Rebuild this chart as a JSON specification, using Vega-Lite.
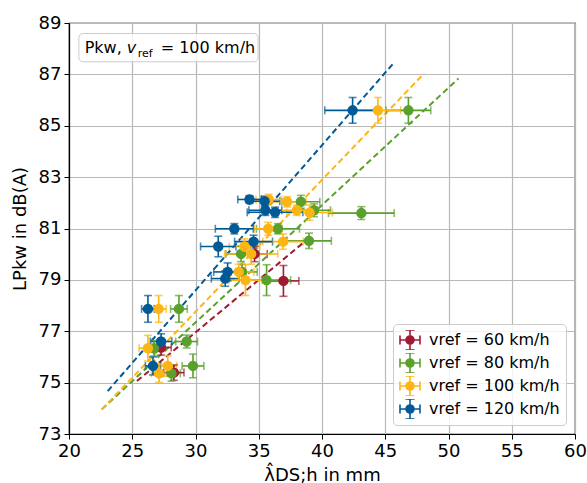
{
  "$schema": "https://vega.github.io/schema/vega-lite/v6.json",
  "width": 506,
  "height": 411,
  "autosize": {"type": "none"},
  "padding": {"left": 69, "top": 23, "right": 12, "bottom": 49},
  "background": "white",
  "datasets": {
    "pts": [
      {"v": "60", "x": 36.95, "y": 78.96, "xe": 1.22, "ye": 0.6},
      {"v": "60", "x": 34.67, "y": 80.01, "xe": 1.0, "ye": 0.3},
      {"v": "60", "x": 27.28, "y": 76.37, "xe": 0.8, "ye": 0.3},
      {"v": "60", "x": 28.29, "y": 75.39, "xe": 0.8, "ye": 0.3},
      {"v": "80", "x": 46.83, "y": 85.6, "xe": 1.77, "ye": 0.5},
      {"v": "80", "x": 38.33, "y": 82.04, "xe": 1.5, "ye": 0.25},
      {"v": "80", "x": 39.37, "y": 81.71, "xe": 1.3, "ye": 0.25},
      {"v": "80", "x": 43.11, "y": 81.6, "xe": 2.6, "ye": 0.25},
      {"v": "80", "x": 36.52, "y": 80.99, "xe": 1.7, "ye": 0.2},
      {"v": "80", "x": 38.97, "y": 80.52, "xe": 1.77, "ye": 0.3},
      {"v": "80", "x": 33.6, "y": 80.01, "xe": 1.2, "ye": 0.3},
      {"v": "80", "x": 33.68, "y": 79.31, "xe": 1.2, "ye": 0.3},
      {"v": "80", "x": 35.62, "y": 78.99, "xe": 1.9, "ye": 0.6},
      {"v": "80", "x": 28.69, "y": 77.87, "xe": 0.66, "ye": 0.52},
      {"v": "80", "x": 29.3, "y": 76.6, "xe": 0.86, "ye": 0.25},
      {"v": "80", "x": 26.72, "y": 76.34, "xe": 0.6, "ye": 0.3},
      {"v": "80", "x": 29.8, "y": 75.65, "xe": 0.86, "ye": 0.46},
      {"v": "80", "x": 28.1, "y": 75.36, "xe": 0.7, "ye": 0.3},
      {"v": "100", "x": 44.42, "y": 85.6, "xe": 1.8, "ye": 0.5},
      {"v": "100", "x": 35.78, "y": 82.13, "xe": 1.0, "ye": 0.2},
      {"v": "100", "x": 37.24, "y": 82.04, "xe": 1.5, "ye": 0.2},
      {"v": "100", "x": 38.01, "y": 81.71, "xe": 1.6, "ye": 0.2},
      {"v": "100", "x": 39.02, "y": 81.62, "xe": 1.8, "ye": 0.3},
      {"v": "100", "x": 35.75, "y": 80.99, "xe": 1.1, "ye": 0.25},
      {"v": "100", "x": 36.92, "y": 80.49, "xe": 1.6, "ye": 0.3},
      {"v": "100", "x": 33.87, "y": 80.3, "xe": 1.2, "ye": 0.3},
      {"v": "100", "x": 34.4, "y": 80.01, "xe": 2.1, "ye": 0.4},
      {"v": "100", "x": 33.42, "y": 79.31, "xe": 1.2, "ye": 0.3},
      {"v": "100", "x": 33.95, "y": 78.99, "xe": 1.3, "ye": 0.6},
      {"v": "100", "x": 27.09, "y": 77.87, "xe": 0.6, "ye": 0.52},
      {"v": "100", "x": 26.24, "y": 76.34, "xe": 0.7, "ye": 0.5},
      {"v": "100", "x": 27.81, "y": 75.65, "xe": 0.7, "ye": 0.4},
      {"v": "100", "x": 27.12, "y": 75.36, "xe": 0.6, "ye": 0.35},
      {"v": "120", "x": 42.42, "y": 85.6, "xe": 2.2, "ye": 0.5},
      {"v": "120", "x": 34.27, "y": 82.13, "xe": 0.93, "ye": 0.15},
      {"v": "120", "x": 35.46, "y": 82.06, "xe": 1.2, "ye": 0.2},
      {"v": "120", "x": 35.52, "y": 81.71, "xe": 1.3, "ye": 0.2},
      {"v": "120", "x": 36.29, "y": 81.63, "xe": 2.2, "ye": 0.2},
      {"v": "120", "x": 33.07, "y": 80.99, "xe": 1.5, "ye": 0.2},
      {"v": "120", "x": 34.59, "y": 80.49, "xe": 1.5, "ye": 0.25},
      {"v": "120", "x": 31.8, "y": 80.3, "xe": 1.4, "ye": 0.4},
      {"v": "120", "x": 32.54, "y": 79.31, "xe": 1.1, "ye": 0.35},
      {"v": "120", "x": 32.35, "y": 79.05, "xe": 1.1, "ye": 0.3},
      {"v": "120", "x": 26.24, "y": 77.87, "xe": 0.5, "ye": 0.52},
      {"v": "120", "x": 27.28, "y": 76.6, "xe": 0.85, "ye": 0.3},
      {"v": "120", "x": 26.64, "y": 75.65, "xe": 0.6, "ye": 0.35}
    ],
    "fits": [
      {"v": "60", "x": 25.37, "y": 75.06},
      {"v": "60", "x": 38.78, "y": 80.55},
      {"v": "80", "x": 22.6, "y": 73.96},
      {"v": "80", "x": 50.79, "y": 86.84},
      {"v": "100", "x": 22.58, "y": 73.95},
      {"v": "100", "x": 48.08, "y": 87.04},
      {"v": "120", "x": 23.06, "y": 74.67},
      {"v": "120", "x": 45.64, "y": 87.43}
    ],
    "note": [{"t": "Pkw,"}]
  },
  "config": {
    "font": "DejaVu Sans",
    "view": {"stroke": "black", "strokeWidth": 1.2},
    "axis": {
      "labelFont": "DejaVu Sans",
      "labelFontSize": 18,
      "labelColor": "black",
      "titleFont": "DejaVu Sans",
      "titleFontSize": 18,
      "titleFontWeight": "normal",
      "titleColor": "black",
      "domainColor": "black",
      "domainWidth": 1.2,
      "tickColor": "black",
      "tickSize": 5,
      "tickWidth": 1,
      "gridColor": "#b8b8b8",
      "gridWidth": 1.2,
      "labelPadding": 3
    }
  },
  "layer": [
    {
      "data": {"name": "fits"},
      "mark": {"type": "line", "strokeDash": [6, 3.5], "strokeWidth": 2},
      "encoding": {
        "x": {
          "field": "x",
          "type": "quantitative",
          "title": "λ̂DS;h in mm",
          "scale": {"domain": [20, 60], "nice": false, "zero": false},
          "axis": {"values": [20, 25, 30, 35, 40, 45, 50, 55, 60], "titlePadding": 6, "labelFlush": false}
        },
        "y": {
          "field": "y",
          "type": "quantitative",
          "title": "LPkw in dB(A)",
          "scale": {"domain": [73, 89], "nice": false, "zero": false},
          "axis": {"values": [73, 75, 77, 79, 81, 83, 85, 87, 89], "titlePadding": 9, "labelFlush": false}
        },
        "color": {"field": "v", "type": "nominal", "scale": {"domain": ["120", "100", "80", "60"], "range": ["#005a96", "#fdb515", "#5aa02c", "#9e1b32"]}, "legend": null},
        "detail": {"field": "v"}
      }
    },
    {
      "data": {"name": "pts"},
      "mark": {"type": "errorbar", "thickness": 1.6, "ticks": {"size": 8, "thickness": 1.6}},
      "encoding": {
        "x": {"field": "x", "type": "quantitative", "title": "λ̂DS;h in mm"},
        "xError": {"field": "xe"},
        "y": {"field": "y", "type": "quantitative", "title": "LPkw in dB(A)"},
        "color": {"field": "v", "type": "nominal", "legend": null}
      }
    },
    {
      "data": {"name": "pts"},
      "mark": {"type": "errorbar", "thickness": 1.6, "ticks": {"size": 8, "thickness": 1.6}},
      "encoding": {
        "x": {"field": "x", "type": "quantitative", "title": "λ̂DS;h in mm"},
        "y": {"field": "y", "type": "quantitative", "title": "LPkw in dB(A)"},
        "yError": {"field": "ye"},
        "color": {"field": "v", "type": "nominal", "legend": null}
      }
    },
    {
      "data": {"name": "pts"},
      "mark": {"type": "circle", "size": 80, "opacity": 1, "strokeWidth": 1.5},
      "encoding": {
        "x": {"field": "x", "type": "quantitative", "title": "λ̂DS;h in mm"},
        "y": {"field": "y", "type": "quantitative", "title": "LPkw in dB(A)"},
        "fill": {
          "field": "v",
          "type": "nominal",
          "scale": {"domain": ["60", "80", "100", "120"], "range": ["#9e1b32", "#5aa02c", "#fdb515", "#005a96"]},
          "legend": {
            "title": null,
            "orient": "bottom-right",
            "offset": 9,
            "fillColor": "rgba(255,255,255,0.8)",
            "strokeColor": "#cccccc",
            "cornerRadius": 4,
            "padding": 6,
            "symbolType": "M-1,0H1M0,-1V1M-1,-0.45V0.45M1,-0.45V0.45M-0.45,-1H0.45M-0.45,1H0.45M0.4,0A0.4,0.4,0,1,1,-0.4,0A0.4,0.4,0,1,1,0.4,0Z",
            "symbolSize": 400,
            "symbolStrokeWidth": 1.6,
            "symbolOpacity": 1,
            "clipHeight": 20,
            "labelFont": "DejaVu Sans",
            "labelFontSize": 16,
            "labelColor": "black",
            "labelOffset": 8,
            "rowPadding": 3,
            "labelExpr": "'vref = ' + datum.label + ' km/h'"
          }
        },
        "stroke": {
          "field": "v",
          "type": "nominal",
          "scale": {"domain": ["60", "80", "100", "120"], "range": ["#9e1b32", "#5aa02c", "#fdb515", "#005a96"]},
          "legend": {
            "title": null,
            "orient": "bottom-right",
            "offset": 9,
            "fillColor": "rgba(255,255,255,0.8)",
            "strokeColor": "#cccccc",
            "cornerRadius": 4,
            "padding": 6,
            "symbolType": "M-1,0H1M0,-1V1M-1,-0.45V0.45M1,-0.45V0.45M-0.45,-1H0.45M-0.45,1H0.45M0.4,0A0.4,0.4,0,1,1,-0.4,0A0.4,0.4,0,1,1,0.4,0Z",
            "symbolSize": 400,
            "symbolStrokeWidth": 1.6,
            "symbolOpacity": 1,
            "clipHeight": 20,
            "labelFont": "DejaVu Sans",
            "labelFontSize": 16,
            "labelColor": "black",
            "labelOffset": 8,
            "rowPadding": 3,
            "labelExpr": "'vref = ' + datum.label + ' km/h'"
          }
        }
      }
    },
    {
      "data": {"name": "note"},
      "mark": {"type": "rect", "fill": "white", "fillOpacity": 0.8, "stroke": "#cccccc", "strokeWidth": 1, "cornerRadius": 4},
      "encoding": {
        "x": {"datum": 20.78, "type": "quantitative", "title": "λ̂DS;h in mm"},
        "x2": {"datum": 34.94},
        "y": {"datum": 88.59, "type": "quantitative", "title": "LPkw in dB(A)"},
        "y2": {"datum": 87.49}
      }
    },
    {
      "data": {"name": "note"},
      "mark": {"type": "text", "font": "DejaVu Sans", "fontSize": 16, "align": "left", "baseline": "alphabetic", "color": "black"},
      "encoding": {
        "x": {"datum": 21.24, "type": "quantitative", "title": "λ̂DS;h in mm"},
        "y": {"datum": 87.85, "type": "quantitative", "title": "LPkw in dB(A)"},
        "text": {"field": "t"}
      }
    },
    {
      "data": {"name": "note"},
      "mark": {"type": "text", "text": "v", "font": "DejaVu Sans", "fontStyle": "italic", "fontSize": 16, "align": "left", "baseline": "alphabetic", "dx": 42, "color": "black"},
      "encoding": {
        "x": {"datum": 21.24, "type": "quantitative", "title": "λ̂DS;h in mm"},
        "y": {"datum": 87.85, "type": "quantitative", "title": "LPkw in dB(A)"}
      }
    },
    {
      "data": {"name": "note"},
      "mark": {"type": "text", "text": "ref", "font": "DejaVu Sans", "fontSize": 11, "align": "left", "baseline": "alphabetic", "dx": 53, "dy": 4, "color": "black"},
      "encoding": {
        "x": {"datum": 21.24, "type": "quantitative", "title": "λ̂DS;h in mm"},
        "y": {"datum": 87.85, "type": "quantitative", "title": "LPkw in dB(A)"}
      }
    },
    {
      "data": {"name": "note"},
      "mark": {"type": "text", "text": "= 100 km/h", "font": "DejaVu Sans", "fontSize": 16, "align": "left", "baseline": "alphabetic", "dx": 76, "color": "black"},
      "encoding": {
        "x": {"datum": 21.24, "type": "quantitative", "title": "λ̂DS;h in mm"},
        "y": {"datum": 87.85, "type": "quantitative", "title": "LPkw in dB(A)"}
      }
    }
  ]
}
